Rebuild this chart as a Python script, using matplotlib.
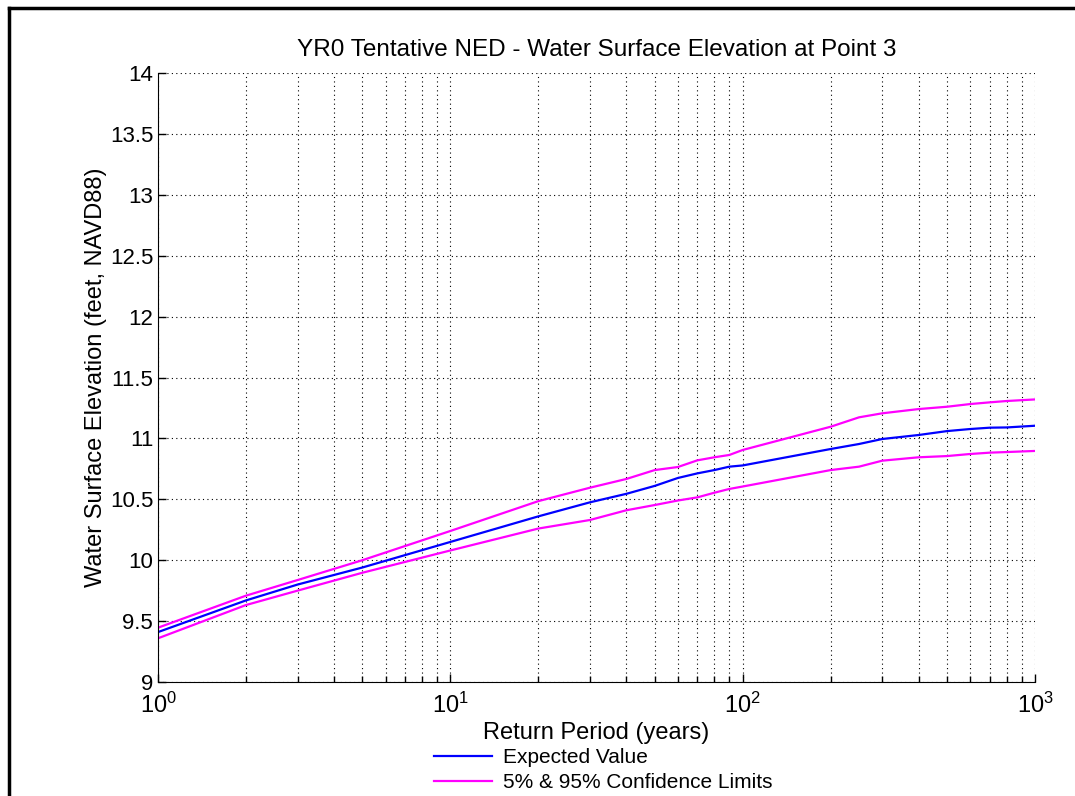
import numpy as np
import matplotlib
matplotlib.use("Agg")
import matplotlib.pyplot as plt
from matplotlib.lines import Line2D
from matplotlib.ticker import FixedLocator, LogLocator, NullFormatter

plt.rcParams['font.family'] = ['Liberation Sans', 'DejaVu Sans']
plt.rcParams['mathtext.fontset'] = 'custom'
plt.rcParams['mathtext.rm'] = 'Liberation Sans'
plt.rcParams['mathtext.it'] = 'Liberation Sans'

# --- Stage-frequency results at Point 3 ---
return_period = [1, 2, 3, 5, 10, 20, 30, 40, 50, 60, 70, 80, 90, 100,
                 200, 250, 300, 400, 500, 600, 700, 800, 1000]
expected = [9.41, 9.67, 9.80, 9.94, 10.15, 10.36, 10.475, 10.545, 10.61, 10.675,
            10.713, 10.74, 10.768, 10.778, 10.913, 10.954, 10.995, 11.028,
            11.06, 11.077, 11.088, 11.09, 11.104]
upper_95 = [9.446, 9.709, 9.837, 10.0, 10.24, 10.485, 10.595, 10.667, 10.74, 10.765,
            10.82, 10.845, 10.864, 10.905, 11.096, 11.173, 11.206, 11.241,
            11.26, 11.282, 11.296, 11.307, 11.32]
lower_5 = [9.359, 9.632, 9.75, 9.897, 10.08, 10.26, 10.33, 10.41, 10.453, 10.49,
           10.516, 10.554, 10.585, 10.605, 10.74, 10.768, 10.817, 10.845,
           10.855, 10.872, 10.883, 10.888, 10.897]

ytick_vals = [9, 9.5, 10, 10.5, 11, 11.5, 12, 12.5, 13, 13.5, 14]
ytick_text = ['9', '9.5', '10', '10.5', '11', '11.5', '12', '12.5', '13', '13.5', '14']
xtick_vals = [1, 10, 100, 1000]
xtick_text = ['$10^{0}$', '$10^{1}$', '$10^{2}$', '$10^{3}$']

fig = plt.figure(figsize=(10.75, 7.96), dpi=100)
ax = fig.add_axes([0.147, 0.1432, 0.8158, 0.7651])

ax.semilogx(return_period, expected, color='#0000ff', lw=1.6, label='Expected Value')
ax.semilogx(return_period, upper_95, color='#ff00ff', lw=1.6,
            label='5% & 95% Confidence Limits')
ax.semilogx(return_period, lower_5, color='#ff00ff', lw=1.6)

ax.set_xlim(1, 1000)
ax.set_ylim(9, 14)
ax.yaxis.set_major_locator(FixedLocator(ytick_vals))
ax.set_yticklabels(ytick_text)
ax.xaxis.set_major_locator(FixedLocator(xtick_vals))
ax.set_xticklabels(xtick_text)
ax.xaxis.set_minor_locator(LogLocator(base=10, subs=np.arange(2, 10)))
ax.xaxis.set_minor_formatter(NullFormatter())

ax.tick_params(which='both', direction='in', labelsize=16, width=1, color='black')
ax.tick_params(which='major', length=6)
ax.tick_params(which='minor', length=4)
ax.tick_params(axis='x', pad=8, labelsize=17)

grid_style = dict(ls=(0, (1, 3)), color='black', lw=0.8)
ax.grid(True, which='major', axis='both', **grid_style)
ax.grid(True, which='minor', axis='x', **grid_style)

ax.spines['top'].set_visible(False)
ax.spines['right'].set_visible(False)

ax.set_title('YR0 Tentative NED - Water Surface Elevation at Point 3',
             fontsize=17.5, pad=12)
ax.set_xlabel('Return Period (years)', fontsize=17)
ax.set_ylabel('Water Surface Elevation (feet, NAVD88)', fontsize=17)
ax.yaxis.set_label_coords(-0.058, 0.5)
ax.xaxis.set_label_coords(0.5, -0.066)

ax.legend(loc='upper left', bbox_to_anchor=(434 / 1075, 1 - 748 / 796),
          bbox_transform=fig.transFigure, frameon=False, fontsize=15,
          handlelength=2.8, handletextpad=0.5, labelspacing=0.28,
          borderaxespad=0, borderpad=0)

# window frame on the top and left edges
fig.add_artist(Line2D([9 / 1075, 9 / 1075], [0, 1 - 8 / 796],
                      transform=fig.transFigure, color='black', lw=2.5))
fig.add_artist(Line2D([9 / 1075, 1], [1 - 8 / 796, 1 - 8 / 796],
                      transform=fig.transFigure, color='black', lw=2.5))

fig.savefig('out.png', dpi=100)
